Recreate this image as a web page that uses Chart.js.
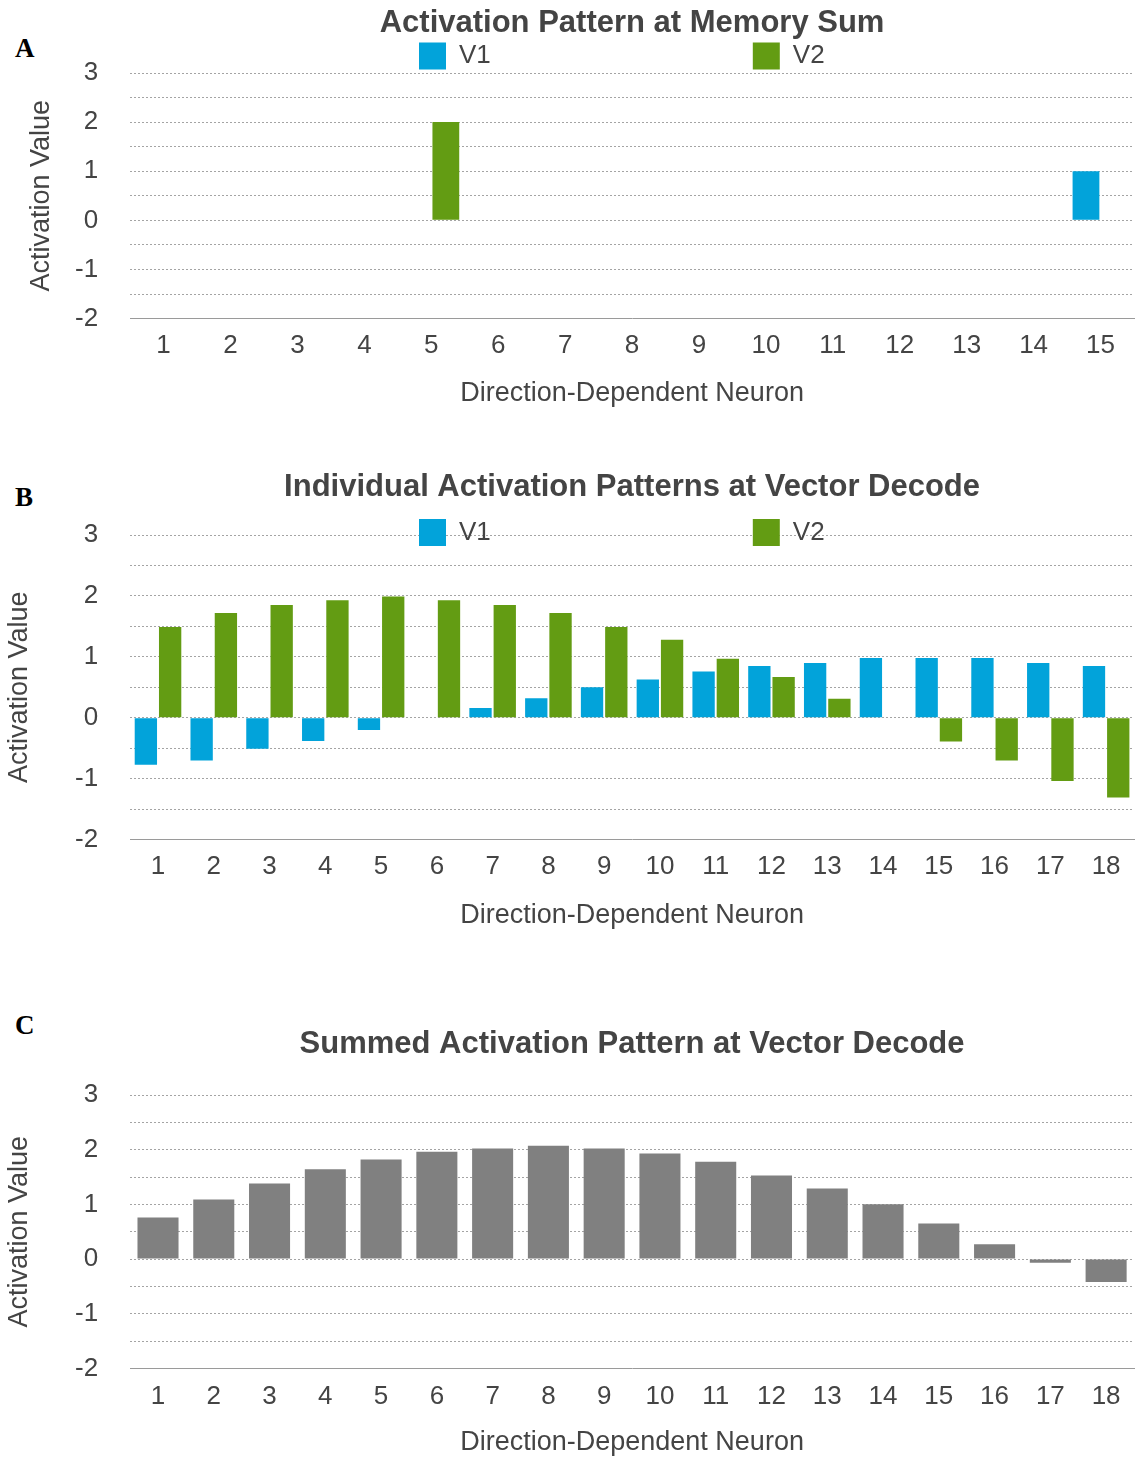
<!DOCTYPE html>
<html>
<head>
<meta charset="utf-8">
<title>Activation Patterns</title>
<script src="https://cdn.jsdelivr.net/npm/chart.js@4.4.1/dist/chart.umd.min.js"></script>
<style>
  html, body { margin: 0; padding: 0; background: #fff; }
  body { width: 1135px; height: 1459px; position: relative; overflow: hidden; }
  canvas { position: absolute; left: 0; }
  .panel {
    position: absolute; left: 15px;
    font: bold 27px/27px "Liberation Serif", "Times New Roman", serif;
    color: #000;
  }
</style>
</head>
<body>
<div class="panel" style="top:35px">A</div>
<div class="panel" style="top:484px">B</div>
<div class="panel" style="top:1012px">C</div>
<canvas id="chartA" width="1135" height="420" style="top:0px"></canvas>
<canvas id="chartB" width="1135" height="490" style="top:450px"></canvas>
<canvas id="chartC" width="1135" height="459" style="top:1000px"></canvas>
<script>
// Neuron indices
const neuronsA = ['1','2','3','4','5','6','7','8','9','10','11','12','13','14','15'];
const neuronsB = ['1','2','3','4','5','6','7','8','9','10','11','12','13','14','15','16','17','18'];

// A: activation at memory sum
const memoryV1 = [0, 0, 0, 0, 0, 0, 0, 0, 0, 0, 0, 0, 0, 0, 1];
const memoryV2 = [0, 0, 0, 0, 2, 0, 0, 0, 0, 0, 0, 0, 0, 0, 0];

// B: individual activations at vector decode
const decodeV1 = [-0.77, -0.70, -0.51, -0.38, -0.20, 0, 0.16, 0.32, 0.50, 0.63, 0.76, 0.85, 0.90, 0.98, 0.98, 0.98, 0.90, 0.85];
const decodeV2 = [1.49, 1.72, 1.85, 1.93, 1.99, 1.93, 1.85, 1.72, 1.49, 1.28, 0.97, 0.67, 0.31, 0, -0.39, -0.70, -1.04, -1.31];

// C: summed activation at vector decode
const decodeSum = [0.76, 1.09, 1.38, 1.64, 1.82, 1.96, 2.02, 2.07, 2.02, 1.93, 1.78, 1.53, 1.29, 1.00, 0.65, 0.27, -0.07, -0.42];

// Value axis range and series names
const activationMin = -2;
const activationMax = 3;
const seriesNames = ['V1', 'V2'];

const BLUE = '#02A3DA';
const GREEN = '#639C13';
const GREY = '#808080';
const TEXT = '#444444';
const SANS = "'Liberation Sans', Arial, Helvetica, sans-serif";

Chart.defaults.font.family = SANS;
Chart.defaults.color = TEXT;

// Lets the legend take less vertical room than it needs (so it can sit on the
// top grid line) and places its first item at a fixed x position.
const legendPlacement = {
  id: 'legendPlacement',
  beforeInit(chart, args, opts) {
    const legend = chart.legend;
    if (!legend || opts.height == null) return;
    const fit = legend.fit;
    legend.fit = function () {
      fit.call(this);
      this.height = opts.height;
    };
  },
  afterLayout(chart, args, opts) {
    const legend = chart.legend;
    if (!legend || opts.centerY == null) return;
    const labels = legend.options.labels;
    const itemHeight = Math.max(labels.boxHeight, labels.font.size);
    legend.top = opts.centerY - labels.padding - itemHeight / 2;
    legend.bottom = opts.centerY + itemHeight / 2 + 4;
    legend.left = opts.startX - labels.padding;
  }
};

function buildChart(id, cfg) {
  const plugins = cfg.legend ? [legendPlacement] : [];
  return new Chart(document.getElementById(id), {
    type: 'bar',
    data: { labels: cfg.labels, datasets: cfg.datasets },
    plugins,
    options: {
      responsive: false,
      animation: false,
      devicePixelRatio: 1,
      layout: { padding: { top: 0, left: 0, right: 1, bottom: cfg.padBottom } },
      datasets: {
        bar: {
          categoryPercentage: cfg.catPct,
          barPercentage: 0.92,
          borderWidth: 0
        }
      },
      plugins: {
        title: {
          display: true,
          text: cfg.title,
          fullSize: false,
          color: TEXT,
          font: { size: 31, weight: 'bold', lineHeight: 1.2 },
          padding: cfg.titlePad
        },
        legend: cfg.legend ? {
          display: true,
          fullSize: false,
          align: 'start',
          labels: {
            boxWidth: 27,
            boxHeight: 27,
            padding: 262,
            color: TEXT,
            font: { size: 26 }
          }
        } : { display: false },
        legendPlacement: cfg.legend || {},
        tooltip: { enabled: false }
      },
      scales: {
        x: {
          grid: { display: true, drawOnChartArea: false, drawTicks: false },
          border: { display: true, color: '#9a9a9a', width: 1 },
          ticks: {
            color: TEXT, font: { size: 26 }, padding: cfg.xTickPad,
            autoSkip: false, maxRotation: 0
          },
          title: {
            display: true, text: 'Direction-Dependent Neuron', color: TEXT,
            font: { size: 27, lineHeight: 1.2 },
            padding: { top: cfg.xTitlePad, bottom: 0 }
          }
        },
        y: {
          min: activationMin,
          max: activationMax,
          grid: { color: '#a4a4a4', lineWidth: 1, drawTicks: false },
          border: { display: false, dash: [2, 2] },
          ticks: {
            stepSize: 0.5,
            autoSkip: false,
            color: TEXT,
            font: { size: 26 },
            padding: 32,
            callback: v => Number.isInteger(v) ? String(v) : ''
          },
          title: {
            display: true, text: 'Activation Value', color: TEXT,
            font: { size: 27, lineHeight: 1.2 },
            padding: cfg.yTitlePad
          }
        }
      }
    }
  });
}

buildChart('chartA', {
  labels: neuronsA,
  title: 'Activation Pattern at Memory Sum',
  datasets: [
    { label: seriesNames[0], data: memoryV1, backgroundColor: BLUE },
    { label: seriesNames[1], data: memoryV2, backgroundColor: GREEN }
  ],
  catPct: 0.87,
  padBottom: 10.2,
  titlePad: { top: 4.4, bottom: 0 },
  legend: { height: 31.4, centerY: 56, startX: 419 },
  xTickPad: 12,
  xTitlePad: 3.6,
  yTitlePad: { top: 25.8, bottom: -15.2 }
});

buildChart('chartB', {
  labels: neuronsB,
  title: 'Individual Activation Patterns at Vector Decode',
  datasets: [
    { label: seriesNames[0], data: decodeV1, backgroundColor: BLUE },
    { label: seriesNames[1], data: decodeV2, backgroundColor: GREEN }
  ],
  catPct: 0.87,
  padBottom: 8.2,
  titlePad: { top: 18.4, bottom: 0 },
  legend: { height: 29.4, centerY: 82.5, startX: 419 },
  xTickPad: 12,
  xTitlePad: 4.6,
  yTitlePad: { top: 3.8, bottom: 6.8 }
});

buildChart('chartC', {
  labels: neuronsB,
  title: 'Summed Activation Pattern at Vector Decode',
  datasets: [
    { label: 'Sum', data: decodeSum, backgroundColor: GREY }
  ],
  catPct: 0.8,
  padBottom: 0,
  titlePad: { top: 25.4, bottom: 32.4 },
  legend: null,
  xTickPad: 13,
  xTitlePad: 1.0,
  yTitlePad: { top: 3.8, bottom: 6.8 }
});
</script>
</body>
</html>
